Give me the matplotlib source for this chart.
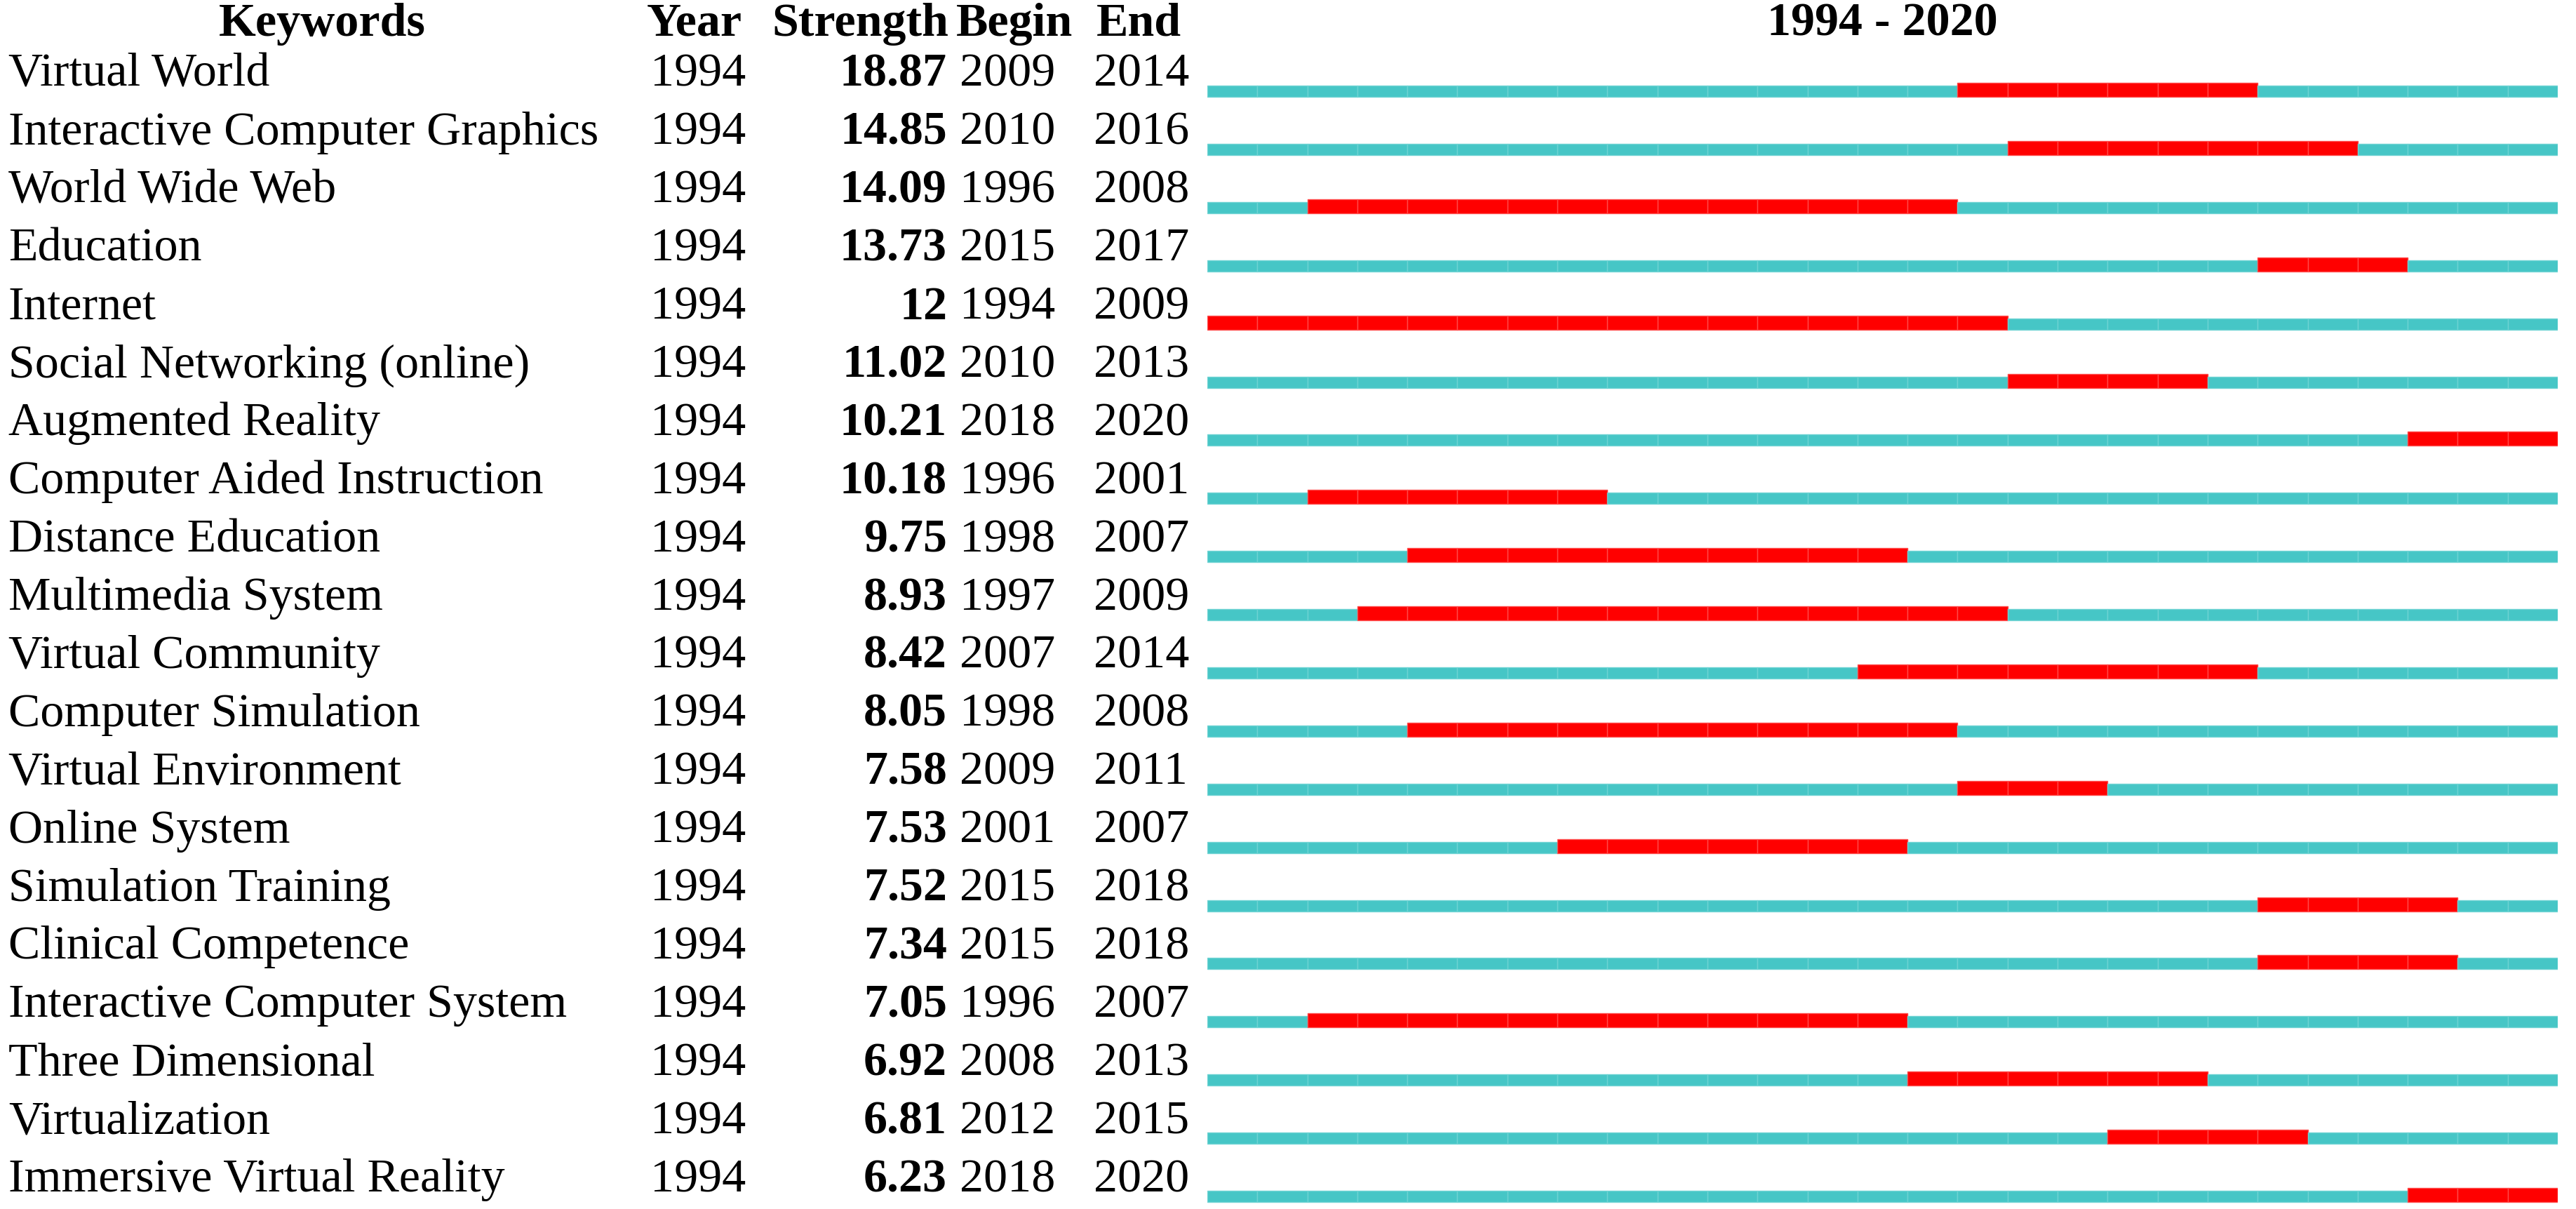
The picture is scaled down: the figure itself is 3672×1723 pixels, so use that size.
import matplotlib
matplotlib.use("Agg")
import matplotlib.pyplot as plt
import matplotlib.transforms as mtransforms

# Data
keywords = [
    "Virtual World", "Interactive Computer Graphics", "World Wide Web", "Education",
    "Internet", "Social Networking (online)", "Augmented Reality",
    "Computer Aided Instruction", "Distance Education", "Multimedia System",
    "Virtual Community", "Computer Simulation", "Virtual Environment",
    "Online System", "Simulation Training", "Clinical Competence",
    "Interactive Computer System", "Three Dimensional", "Virtualization",
    "Immersive Virtual Reality",
]
year = [1994] * 20
strength = [18.87, 14.85, 14.09, 13.73, 12, 11.02, 10.21, 10.18, 9.75, 8.93,
            8.42, 8.05, 7.58, 7.53, 7.52, 7.34, 7.05, 6.92, 6.81, 6.23]
begin = [2009, 2010, 1996, 2015, 1994, 2010, 2018, 1996, 1998, 1997,
         2007, 1998, 2009, 2001, 2015, 2015, 1996, 2008, 2012, 2018]
end = [2014, 2016, 2008, 2017, 2009, 2013, 2020, 2001, 2007, 2009,
       2014, 2008, 2011, 2007, 2018, 2018, 2007, 2013, 2015, 2020]
first_year, last_year = 1994, 2020

W, H = 3672, 1724
plt.rcParams["font.family"] = ["Liberation Serif", "DejaVu Serif"]
fig = plt.figure(figsize=(W / 100, H / 100), dpi=100)

# bar area in pixels
row_px = 82.9
row0_px = 131
ax = fig.add_axes([1721 / W, 0, (3646 - 1721) / W, 1])
ax.set_xlim(first_year, last_year + 1)
ax.set_ylim((H - row0_px) / row_px, -row0_px / row_px)
ax.axis("off")

teal = "#46C6C6"
red = "#FF0000"
h_teal = 16 / row_px
h_red = 20 / row_px

for i in range(len(keywords)):
    for yr in range(first_year, last_year + 1):
        if begin[i] <= yr <= end[i]:
            ax.barh(i - (h_red - h_teal) / 2, 1, left=yr, height=h_red,
                    color=red, edgecolor="#FF4A4A", linewidth=1)
        else:
            ax.barh(i, 1, left=yr, height=h_teal,
                    color=teal, edgecolor="#6ED3D3", linewidth=1)

# text columns: x in figure pixels, y in row units
tr = mtransforms.blended_transform_factory(
    mtransforms.Affine2D().scale(1 / W, 1) + fig.transFigure, ax.transData)
fs = 49
base = 8 / row_px
hy = -80 / row_px

ax.text(459, hy, "Keywords", transform=tr, ha="center", va="baseline", fontsize=fs, fontweight="bold", clip_on=False)
ax.text(922, hy, "Year", transform=tr, ha="left", va="baseline", fontsize=fs, fontweight="bold", clip_on=False)
ax.text(1352, hy, "Strength", transform=tr, ha="right", va="baseline", fontsize=fs, fontweight="bold", clip_on=False)
ax.text(1363, hy, "Begin", transform=tr, ha="left", va="baseline", fontsize=fs, fontweight="bold", clip_on=False)
ax.text(1563, hy, "End", transform=tr, ha="left", va="baseline", fontsize=fs, fontweight="bold", clip_on=False)
ax.text(2683, hy, f"{first_year} - {last_year}", transform=tr, ha="center", va="baseline",
        fontsize=fs, fontweight="bold", clip_on=False)

for i, kw in enumerate(keywords):
    y = i - base
    ax.text(12, y, kw, transform=tr, ha="left", va="baseline", fontsize=fs, clip_on=False)
    ax.text(927, y, str(year[i]), transform=tr, ha="left", va="baseline", fontsize=fs, clip_on=False)
    ax.text(1350, y, f"{strength[i]:g}", transform=tr, ha="right", va="baseline",
            fontsize=fs, fontweight="bold", clip_on=False)
    ax.text(1368, y, str(begin[i]), transform=tr, ha="left", va="baseline", fontsize=fs, clip_on=False)
    ax.text(1559, y, str(end[i]), transform=tr, ha="left", va="baseline", fontsize=fs, clip_on=False)

fig.savefig("out.png", dpi=100, facecolor="white")
